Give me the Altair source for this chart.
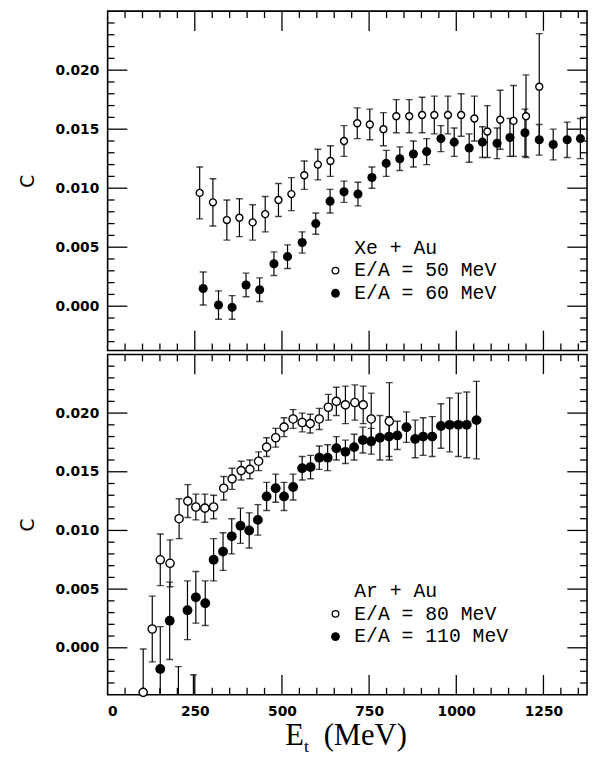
import altair as alt
import pandas as pd

# ---------------- data ----------------
# Top panel: Xe + Au
xe50_et = [264, 302, 342, 378, 416, 452, 490, 527, 564, 603, 639, 678, 716, 752,
           791, 828, 865, 902, 937, 976, 1014, 1052, 1089, 1126, 1164, 1200, 1238]
xe50_c = [0.0096, 0.0088, 0.0073, 0.0075, 0.0071, 0.0078, 0.0090, 0.0095, 0.0111,
          0.0120, 0.0123, 0.0140, 0.0155, 0.0154, 0.0150, 0.0161, 0.0161, 0.0162,
          0.0162, 0.0162, 0.0162, 0.0159, 0.0148, 0.0158, 0.0157, 0.0161, 0.0186]
xe50_err = [0.0022, 0.0020, 0.0017, 0.0016, 0.0015, 0.0015, 0.0014, 0.0014, 0.0012,
            0.0013, 0.0013, 0.0013, 0.0013, 0.0013, 0.0014, 0.0014, 0.0014, 0.0015,
            0.0016, 0.0016, 0.0018, 0.0019, 0.0022, 0.0025, 0.0030, 0.0035, 0.0045]

xe60_et = [274, 318, 357, 397, 436, 477, 516, 558, 597, 638, 678, 718, 758, 799,
           838, 877, 915, 956, 994, 1037, 1075, 1117, 1154, 1197, 1238, 1278, 1318, 1356]
xe60_c = [0.0015, 0.0001, -0.0001, 0.0018, 0.0014, 0.0036, 0.0042, 0.0054, 0.0070,
          0.0089, 0.0097, 0.0095, 0.0109, 0.0121, 0.0125, 0.0129, 0.0131, 0.0142,
          0.0139, 0.0134, 0.0139, 0.0138, 0.0143, 0.0147, 0.0141, 0.0137, 0.0141, 0.0142]
xe60_err = [0.0014, 0.0012, 0.0010, 0.0010, 0.0010, 0.0010, 0.0010, 0.0009, 0.0009,
            0.0010, 0.0009, 0.0010, 0.0009, 0.0011, 0.0010, 0.0011, 0.0011, 0.0011,
            0.0012, 0.0012, 0.0013, 0.0013, 0.0016, 0.0020, 0.0013, 0.0013, 0.0015, 0.0017]

# Bottom panel: Ar + Au
ar80_et = [102, 128, 151, 179, 205, 230, 253, 279, 304, 333, 357, 383, 408, 433,
           456, 482, 506, 532, 558, 581, 607, 633, 656, 682, 709, 733, 756, 808]
ar80_c = [-0.0038, 0.0016, 0.0075, 0.0072, 0.0110, 0.0125, 0.0120, 0.0119, 0.0120,
          0.0136, 0.0144, 0.0151, 0.0152, 0.0159, 0.0171, 0.0179, 0.0188, 0.0195,
          0.0192, 0.0191, 0.0195, 0.0205, 0.0210, 0.0207, 0.0209, 0.0207, 0.0195, 0.0193]
ar80_err = [0.0037, 0.0028, 0.0022, 0.0020, 0.0017, 0.0014, 0.0011, 0.0012, 0.0010,
            0.0010, 0.0009, 0.0008, 0.0008, 0.0008, 0.0008, 0.0008, 0.0008, 0.0008,
            0.0008, 0.0008, 0.0009, 0.0011, 0.0012, 0.0016, 0.0015, 0.0016, 0.0022, 0.0033]

ar110_et = [151, 178, 203, 229, 246, 253, 280, 304, 331, 356, 381, 406, 431, 456,
            482, 506, 532, 558, 582, 607, 631, 656, 682, 707, 732, 756, 781, 807,
            831, 857, 882, 905, 931, 956, 981, 1006, 1030, 1058]
ar110_c = [-0.0018, 0.0023, -0.0055, 0.0032, -0.0060, 0.0043, 0.0038, 0.0075, 0.0082,
           0.0095, 0.0104, 0.0100, 0.0109, 0.0129, 0.0136, 0.0129, 0.0137, 0.0153,
           0.0154, 0.0162, 0.0162, 0.0170, 0.0167, 0.0171, 0.0177, 0.0176, 0.0179,
           0.0180, 0.0181, 0.0188, 0.0178, 0.0180, 0.0180, 0.0189, 0.0190, 0.0190,
           0.0190, 0.0194]
ar110_err = [0.0036, 0.0033, 0.0039, 0.0025, 0.0037, 0.0022, 0.0019, 0.0018, 0.0016,
             0.0015, 0.0015, 0.0015, 0.0013, 0.0012, 0.0012, 0.0012, 0.0011, 0.0010,
             0.0010, 0.0010, 0.0011, 0.0010, 0.0010, 0.0011, 0.0011, 0.0011, 0.0019,
             0.0017, 0.0012, 0.0013, 0.0016, 0.0016, 0.0017, 0.0019, 0.0023, 0.0027,
             0.0028, 0.0033]

# axis ticks / labels
x_label_values = [0, 250, 500, 750, 1000, 1250]
x_major = [250, 500, 750, 1000, 1250]
x_minor = [v for v in range(50, 1375, 50) if v % 250 != 0]
y_label_values = [0.0, 0.005, 0.010, 0.015, 0.020]
y_minor = [round(i * 0.001, 3) for i in range(-3, 25) if i % 5 != 0]

X_DOMAIN = [0, 1375]
W = 486
MAJ = 20
MIN = 7


def make_df(et, c, err):
    return pd.DataFrame({
        "et": et, "c": c,
        "lo": [a - b for a, b in zip(c, err)],
        "hi": [a + b for a, b in zip(c, err)],
    })


def panel(open_df, filled_df, ydom, h, leg_title, leg_open, leg_filled,
          open_size, filled_size, bottom):
    xs = alt.Scale(domain=X_DOMAIN, nice=False, zero=False)
    ys = alt.Scale(domain=ydom, nice=False, zero=False)
    if bottom:
        x_axis = alt.Axis(values=x_label_values, format="d", ticks=False, domain=False,
                          grid=False, title=None, labelPadding=10,
                          labelFont="DejaVu Sans", labelFontWeight="bold",
                          labelFontSize=14, labelColor="black")
    else:
        x_axis = alt.Axis(labels=False, ticks=False, domain=False, grid=False, title=None)
    y_axis = alt.Axis(values=y_label_values, format=".3f", ticks=False, domain=False,
                      grid=False, title="C", titleFont="DejaVu Sans",
                      titleFontWeight="normal", titleFontSize=19, titleColor="black",
                      titlePadding=18, labelPadding=9, labelFont="DejaVu Sans",
                      labelFontWeight="bold", labelFontSize=14, labelColor="black")

    def X(f):
        return alt.X(f"{f}:Q", scale=xs, axis=x_axis)

    def Y(f):
        return alt.Y(f"{f}:Q", scale=ys, axis=y_axis)

    layers = []
    # inward tick marks on all four sides
    xmaj = pd.DataFrame({"v": x_major})
    xmin = pd.DataFrame({"v": x_minor})
    ymaj = pd.DataFrame({"v": y_label_values})
    ymin = pd.DataFrame({"v": y_minor})
    for d, L in ((xmaj, MAJ), (xmin, MIN)):
        layers.append(alt.Chart(d).mark_rule(color="black", strokeWidth=1.3).encode(
            x=X("v"), y=alt.value(h), y2=alt.value(h - L)))
        layers.append(alt.Chart(d).mark_rule(color="black", strokeWidth=1.3).encode(
            x=X("v"), y=alt.value(0), y2=alt.value(L)))
    for d, L in ((ymaj, MAJ), (ymin, MIN)):
        layers.append(alt.Chart(d).mark_rule(color="black", strokeWidth=1.3).encode(
            y=Y("v"), x=alt.value(0), x2=alt.value(L)))
        layers.append(alt.Chart(d).mark_rule(color="black", strokeWidth=1.3).encode(
            y=Y("v"), x=alt.value(W), x2=alt.value(W - L)))

    # error bars
    for df in (open_df, filled_df):
        layers.append(alt.Chart(df).mark_rule(color="black", strokeWidth=1.2, clip=True).encode(
            x=X("et"), y=Y("lo"), y2="hi:Q"))
        for f in ("lo", "hi"):
            layers.append(alt.Chart(df).mark_tick(orient="horizontal", color="black",
                                                  size=7, thickness=1.4, clip=True).encode(
                x=X("et"), y=Y(f)))
    # points
    layers.append(alt.Chart(open_df).mark_point(shape="circle", filled=True, fill="white",
                                                stroke="black", strokeWidth=1.4, opacity=1,
                                                size=open_size).encode(x=X("et"), y=Y("c")))
    layers.append(alt.Chart(filled_df).mark_circle(color="black", opacity=1, size=filled_size,
                                                   clip=True).encode(x=X("et"), y=Y("c")))

    # legend (inside the panel)
    one = pd.DataFrame({"a": [0]})
    tfont = dict(font="Liberation Mono", fontSize=20, color="black", align="left",
                 baseline="middle")
    layers.append(alt.Chart(one).mark_text(**tfont).encode(
        x=alt.value(250), y=alt.value(240), text=alt.value(leg_title)))
    layers.append(alt.Chart(one).mark_text(**tfont).encode(
        x=alt.value(250), y=alt.value(263), text=alt.value(leg_open)))
    layers.append(alt.Chart(one).mark_text(**tfont).encode(
        x=alt.value(250), y=alt.value(286), text=alt.value(leg_filled)))
    layers.append(alt.Chart(one).mark_point(shape="circle", filled=False, color="black",
                                            strokeWidth=1.3, opacity=1, size=45).encode(
        x=alt.value(231), y=alt.value(263)))
    layers.append(alt.Chart(one).mark_circle(color="black", opacity=1, size=80).encode(
        x=alt.value(231), y=alt.value(286)))

    if bottom:
        sfont = dict(font="Liberation Serif", color="black", align="left",
                     baseline="alphabetic")
        layers.append(alt.Chart(one).mark_text(fontSize=31, **sfont).encode(
            x=alt.value(180), y=alt.value(396), text=alt.value("E")))
        layers.append(alt.Chart(one).mark_text(fontSize=18, **sfont).encode(
            x=alt.value(199), y=alt.value(403), text=alt.value("t")))
        layers.append(alt.Chart(one).mark_text(fontSize=31, **sfont).encode(
            x=alt.value(219), y=alt.value(396), text=alt.value("(MeV)")))

    return alt.layer(*layers).properties(width=W, height=h)


top = panel(make_df(xe50_et, xe50_c, xe50_err), make_df(xe60_et, xe60_c, xe60_err),
            [-0.00375, 0.025], 344, "Xe + Au", "E/A = 50 MeV", "E/A = 60 MeV",
            50, 85, False)
bottom = panel(make_df(ar80_et, ar80_c, ar80_err), make_df(ar110_et, ar110_c, ar110_err),
               [-0.004, 0.025], 345, "Ar + Au", "E/A = 80 MeV", "E/A = 110 MeV",
               70, 100, True)

chart = alt.vconcat(top, bottom, spacing=0).properties(
    padding={"left": 9, "top": -4, "right": 0, "bottom": 0},
    background="white",
).configure_view(stroke="black", strokeWidth=1.6)

chart.save("out.html", embed_options={"renderer": "svg", "actions": False})
